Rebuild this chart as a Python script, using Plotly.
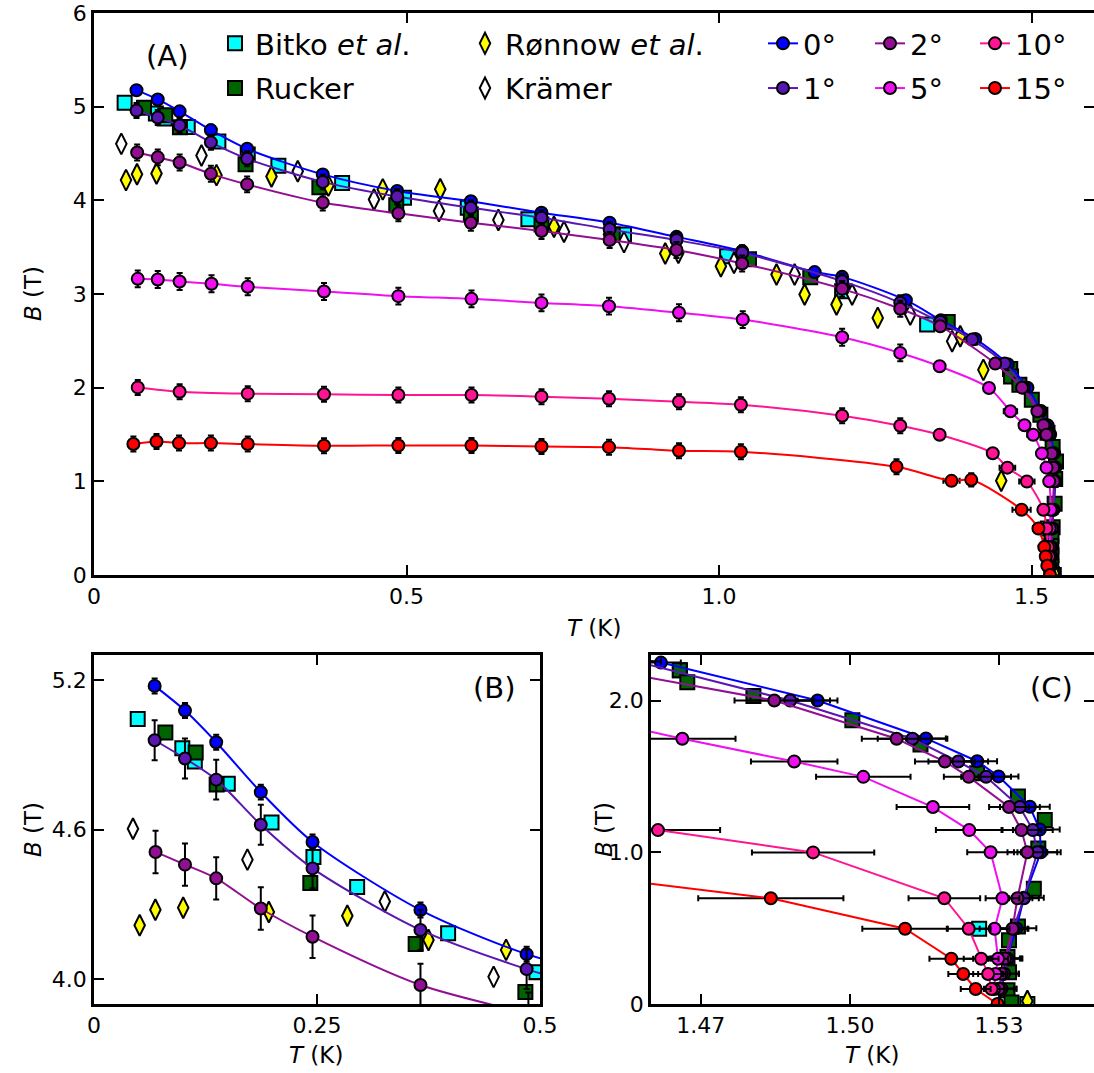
import plotly.graph_objects as go

W, H = 1094, 1073
FONT = "DejaVu Sans"

# ---------------- data: transverse-field phase boundary B_c(T) ----------------
# field angle 0 deg
T0 = [0.068, 0.102, 0.137, 0.187, 0.245, 0.366, 0.485, 0.603, 0.716, 0.825, 0.932, 1.037, 1.153, 1.197, 1.299,
      1.355, 1.410, 1.462, 1.4935, 1.5153, 1.5256, 1.5299, 1.5362, 1.5382, 1.5384, 1.5350, 1.5335, 1.5315, 1.5310, 1.5305]
B0 = [5.176, 5.077, 4.950, 4.750, 4.550, 4.277, 4.100, 3.990, 3.868, 3.760, 3.610, 3.458, 3.234, 3.183, 2.934,
      2.720, 2.520, 2.250, 2.000, 1.750, 1.600, 1.500, 1.300, 1.150, 1.000, 0.700, 0.500, 0.300, 0.200, 0.100]
dT0 = [0] * 15 + [0.004] * 12 + [0.003] * 3
dB0 = [0.03] * 15 + [0] * 15

# field angle 1 deg
T1 = [0.068, 0.102, 0.137, 0.187, 0.245, 0.366, 0.485, 0.603, 0.716, 0.825, 0.932, 1.037, 1.197, 1.290,
      1.354, 1.405, 1.457, 1.4880, 1.5126, 1.5218, 1.5274, 1.5342, 1.5368, 1.5377, 1.5350, 1.5329, 1.5317, 1.5310, 1.5305]
B1 = [4.958, 4.885, 4.800, 4.619, 4.444, 4.197, 4.040, 3.920, 3.815, 3.690, 3.576, 3.440, 3.137, 2.906,
      2.700, 2.513, 2.257, 2.000, 1.748, 1.598, 1.497, 1.298, 1.146, 1.000, 0.697, 0.496, 0.300, 0.200, 0.100]
dT1 = [0] * 14 + [0.004, 0.004, 0.005, 0.008, 0.007, 0.006, 0.005, 0.004, 0.004, 0.004, 0.003, 0.003, 0.003, 0.003, 0.003]
dB1 = [0.08] * 14 + [0] * 15

# field angle 2 deg
T2 = [0.069, 0.102, 0.137, 0.187, 0.245, 0.366, 0.487, 0.603, 0.716, 0.825, 0.932, 1.037, 1.197, 1.290,
      1.354, 1.442, 1.4848, 1.5094, 1.5191, 1.5239, 1.5320, 1.5345, 1.5357, 1.5337, 1.5327, 1.5312, 1.5305, 1.5300]
B2 = [4.510, 4.459, 4.404, 4.283, 4.170, 3.976, 3.861, 3.761, 3.672, 3.576, 3.469, 3.326, 3.055, 2.842,
      2.656, 2.257, 2.000, 1.748, 1.598, 1.497, 1.298, 1.146, 1.000, 0.697, 0.496, 0.300, 0.200, 0.100]
dT2 = [0] * 14 + [0.004, 0.005, 0.008, 0.007, 0.006, 0.005, 0.004, 0.004, 0.004, 0.003, 0.003, 0.003, 0.003, 0.003]
dB2 = [0.085] * 14 + [0] * 14

# field angle 5 deg
T5 = [0.070, 0.102, 0.137, 0.188, 0.246, 0.368, 0.487, 0.604, 0.716, 0.824, 0.936, 1.038, 1.197, 1.290,
      1.353, 1.432, 1.4663, 1.4888, 1.5027, 1.5167, 1.5240, 1.5283, 1.5307, 1.5291, 1.5298, 1.5293, 1.5290]
B5 = [3.162, 3.155, 3.134, 3.109, 3.077, 3.027, 2.977, 2.948, 2.905, 2.870, 2.800, 2.727, 2.538, 2.371,
      2.228, 1.997, 1.748, 1.598, 1.497, 1.298, 1.146, 1.000, 0.697, 0.496, 0.298, 0.198, 0.099]
dT5 = [0] * 14 + [0.005, 0.008, 0.0107, 0.0087, 0.0095, 0.0073, 0.0067, 0.0047, 0.0034, 0.003, 0.002, 0.002, 0.002]
dB5 = [0.09] * 14 + [0] * 13

# field angle 10 deg
T10 = [0.070, 0.137, 0.246, 0.368, 0.487, 0.604, 0.716, 0.824, 0.936, 1.035, 1.197, 1.290,
       1.353, 1.438, 1.4614, 1.4926, 1.5190, 1.5239, 1.5264, 1.5278, 1.5285]
B10 = [2.003, 1.957, 1.936, 1.929, 1.922, 1.922, 1.904, 1.882, 1.850, 1.818, 1.700, 1.594,
       1.497, 1.300, 1.146, 0.999, 0.697, 0.496, 0.298, 0.198, 0.099]
dT10 = [0] * 12 + [0.004, 0.006, 0.0125, 0.0123, 0.0072, 0.0044, 0.0035, 0.003, 0.003]
dB10 = [0.08] * 12 + [0] * 9

# field angle 15 deg
T15 = [0.063, 0.100, 0.136, 0.187, 0.246, 0.368, 0.487, 0.604, 0.716, 0.824, 0.936, 1.035, 1.284,
       1.372, 1.4036, 1.4841, 1.5111, 1.5204, 1.5228, 1.5253, 1.5297]
B15 = [1.398, 1.426, 1.408, 1.408, 1.398, 1.380, 1.383, 1.383, 1.372, 1.365, 1.326, 1.316, 1.155,
       1.005, 1.016, 0.697, 0.496, 0.298, 0.198, 0.099, 0.000]
dT15 = [0] * 13 + [0.013, 0] + [0.0146, 0.0086, 0.0044, 0.003, 0.003, 0]
dB15 = [0.08] * 13 + [0, 0.07] + [0] * 6

# earlier measurements
T_bitko = [0.049, 0.099, 0.113, 0.150, 0.199, 0.246, 0.295, 0.397, 0.496, 0.598, 0.695, 0.848, 1.013, 1.197,
           1.333, 1.4658, 1.526, 1.5357]
B_bitko = [5.043, 4.926, 4.873, 4.784, 4.628, 4.490, 4.369, 4.184, 4.027, 3.920, 3.797, 3.636, 3.404, 3.030,
           2.674, 2.200, 0.496, 0.000]

T_rucker = [0.080, 0.114, 0.1375, 0.2425, 0.3606, 0.4836, 0.603, 0.716, 0.830, 1.048, 1.146, 1.366, 1.4658,
            1.4673, 1.4806, 1.5005, 1.5142, 1.5256, 1.5338, 1.5392, 1.5379, 1.5370, 1.5338, 1.5320, 1.5317,
            1.5320, 1.5317, 1.5325]
B_rucker = [4.989, 4.909, 4.781, 4.385, 4.141, 3.948, 3.850, 3.743, 3.636, 3.370, 3.180, 2.700, 2.200,
            2.120, 2.030, 1.870, 1.710, 1.520, 1.367, 1.213, 1.025, 0.760, 0.510, 0.420, 0.310,
            0.210, 0.090, 0.010]

T_ronnow = [0.0512, 0.0688, 0.100, 0.196, 0.284, 0.375, 0.462, 0.554, 0.736, 0.824, 0.914, 1.003, 1.092,
            1.137, 1.188, 1.254, 1.386, 1.423, 1.4516, 1.5357]
B_ronnow = [4.216, 4.278, 4.286, 4.269, 4.254, 4.157, 4.117, 4.118, 3.718, 3.636, 3.433, 3.297, 3.208,
            2.995, 2.888, 2.745, 2.549, 2.190, 1.006, 0.020]

T_kramer = [0.0437, 0.172, 0.326, 0.448, 0.552, 0.647, 0.752, 0.848, 0.935, 1.024, 1.121, 1.213, 1.306, 1.373]
B_kramer = [4.603, 4.479, 4.311, 4.009, 3.886, 3.790, 3.665, 3.554, 3.440, 3.333, 3.208, 2.995, 2.781, 2.495]

# ---------------- figure ----------------
def py(p):
    return 1 - p / H

fig = go.Figure()

panels = [("x", "y", "spline"), ("x2", "y2", "spline"), ("x3", "y3", "linear")]

refs = [
    ("Bitko <i>et al</i>.", T_bitko, B_bitko, "square", "#00ffff", 14, "legend"),
    ("Rucker", T_rucker, B_rucker, "square", "#006400", 14, "legend"),
    ("Rønnow <i>et al</i>.", T_ronnow, B_ronnow, "diamond-tall", "#ffff00", 15, "legend2"),
    ("Krämer", T_kramer, B_kramer, "diamond-tall", "#ffffff", 15, "legend2"),
]
for name, T, B, sym, col, sz, leg in refs:
    for i, (xa, ya, _) in enumerate(panels):
        fig.add_trace(go.Scatter(
            x=T, y=B, mode="markers", xaxis=xa, yaxis=ya, name=name, legend=leg,
            showlegend=(i == 0), legendgroup=name,
            marker=dict(symbol=sym, size=sz, color=col, line=dict(color="black", width=2)),
        ))

angles = [
    ("0°", T0, B0, dT0, dB0, "#0000ff", "legend3"),
    ("1°", T1, B1, dT1, dB1, "#5a16b0", "legend3"),
    ("2°", T2, B2, dT2, dB2, "#920e92", "legend4"),
    ("5°", T5, B5, dT5, dB5, "#ee10ee", "legend4"),
    ("10°", T10, B10, dT10, dB10, "#ff1493", "legend5"),
    ("15°", T15, B15, dT15, dB15, "#ff0000", "legend5"),
]
for name, T, B, dT, dB, col, leg in angles:
    for i, (xa, ya, shape) in enumerate(panels):
        fig.add_trace(go.Scatter(
            x=T, y=B, mode="lines+markers", xaxis=xa, yaxis=ya, name=name, legend=leg,
            showlegend=(i == 0), legendgroup=name,
            line=dict(color=col, width=2, shape=shape, smoothing=0.8 if shape == "spline" else None),
            marker=dict(symbol="circle", size=12, color=col, line=dict(color="black", width=2)),
            error_x=dict(type="data", array=dT, visible=True, color="black", thickness=2, width=3),
            error_y=dict(type="data", array=dB, visible=True, color="black", thickness=2, width=3),
        ))

axis_style = dict(
    showline=True, linecolor="black", linewidth=2.5, mirror="ticks",
    ticks="inside", ticklen=10, tickwidth=2, tickcolor="black",
    showgrid=False, zeroline=False,
    tickfont=dict(family=FONT, size=22, color="black"),
)

fig.update_layout(
    width=W, height=H,
    margin=dict(l=0, r=0, t=0, b=0, autoexpand=False),
    paper_bgcolor="white", plot_bgcolor="white",
    font=dict(family=FONT, color="black"),
    xaxis=dict(domain=[94 / W, 1.0], range=[0, 1.6], anchor="y",
               tickvals=[0, 0.5, 1.0, 1.5], ticktext=["0", "0.5", "1.0", "1.5"], **axis_style),
    yaxis=dict(domain=[py(575), py(13)], range=[0, 6], anchor="x",
               tickvals=[0, 1, 2, 3, 4, 5, 6], **axis_style),
    xaxis2=dict(domain=[94 / W, 540 / W], range=[0, 0.5], anchor="y2",
                tickvals=[0, 0.25, 0.5], ticktext=["0", "0.25", "0.5"], **axis_style),
    yaxis2=dict(domain=[py(1004), py(655)], range=[3.9, 5.3], anchor="x2",
                tickvals=[4.0, 4.6, 5.2], ticktext=["4.0", "4.6", "5.2"], **axis_style),
    xaxis3=dict(domain=[651 / W, 1.0], range=[1.46, 1.5491], anchor="y3",
                tickvals=[1.47, 1.50, 1.53], ticktext=["1.47", "1.50", "1.53"], **axis_style),
    yaxis3=dict(domain=[py(1004), py(655)], range=[0, 2.3], anchor="x3",
                tickvals=[0, 1.0, 2.0], ticktext=["0", "1.0", "2.0"], **axis_style),
)

leg_style = dict(font=dict(family=FONT, size=29, color="black"), bgcolor="rgba(0,0,0,0)",
                 borderwidth=0, xanchor="left", yanchor="top", tracegroupgap=4,
                 itemsizing="trace", orientation="v")
fig.update_layout(
    legend=dict(x=215 / W, y=py(18), **leg_style),
    legend2=dict(x=465 / W, y=py(18), **leg_style),
    legend3=dict(x=763 / W, y=py(18), **leg_style),
    legend4=dict(x=870 / W, y=py(18), **leg_style),
    legend5=dict(x=975 / W, y=py(18), **leg_style),
)

# panel labels and axis titles
def note(text, x, y, size, angle=0):
    fig.add_annotation(text=text, x=x / W, y=py(y), xref="paper", yref="paper",
                       showarrow=False, textangle=angle, xanchor="center", yanchor="middle",
                       font=dict(family=FONT, size=size, color="black"))

note("(A)", 167, 56, 29)
note("(B)", 494, 688, 29)
note("(C)", 1051, 688, 29)
note("<i>T</i> (K)", 594, 628, 23)
note("<i>T</i> (K)", 316, 1055, 23)
note("<i>T</i> (K)", 872, 1055, 23)
note("<i>B</i> (T)", 33, 294, 23, -90)
note("<i>B</i> (T)", 33, 830, 23, -90)
note("<i>B</i> (T)", 604, 830, 23, -90)

fig.write_html("out.html")
